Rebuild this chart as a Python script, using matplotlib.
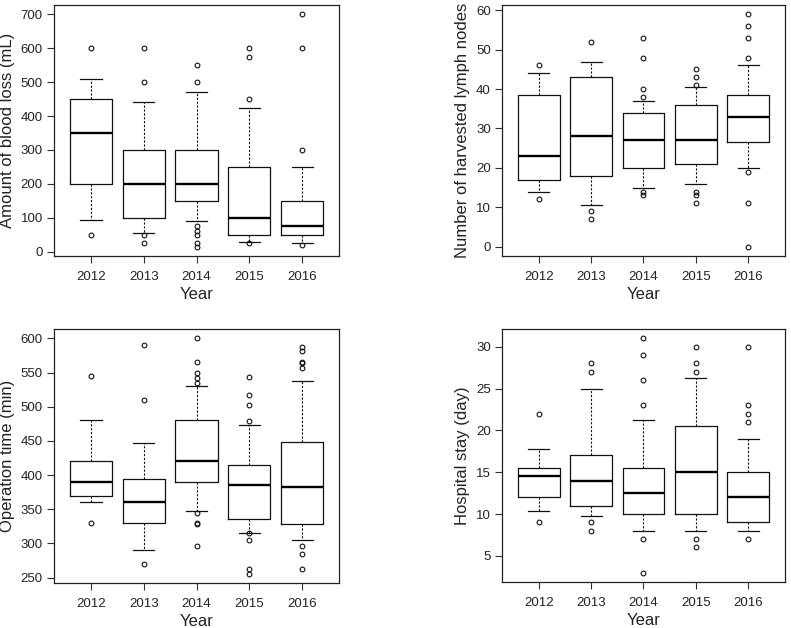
import matplotlib.pyplot as plt

plt.rcParams["font.family"] = ["Liberation Sans", "DejaVu Sans"]

years = ["2012", "2013", "2014", "2015", "2016"]

# blood loss (mL): whisker low, Q1, median, Q3, whisker high
blood_low = [95, 55, 90, 30, 25]
blood_q1 = [200, 100, 150, 50, 50]
blood_med = [350, 200, 200, 100, 75]
blood_q3 = [450, 300, 300, 250, 150]
blood_high = [510, 440, 470, 425, 250]
blood_out = [
    [600, 50],
    [600, 500, 50, 25],
    [550, 500, 75, 60, 50, 25, 15],
    [600, 575, 450, 25],
    [700, 600, 300, 20],
]

# harvested lymph nodes
nodes_low = [14, 10.5, 15, 16, 20]
nodes_q1 = [17, 18, 20, 21, 26.5]
nodes_med = [23, 28, 27, 27, 33]
nodes_q3 = [38.5, 43, 34, 36, 38.5]
nodes_high = [44, 47, 37, 40.5, 46]
nodes_out = [
    [46, 12],
    [52, 9, 7],
    [53, 48, 40, 38, 14, 13],
    [45, 43, 41, 14, 13, 11],
    [59, 56, 53, 48, 19, 11, 0],
]

# operation time (min)
optime_low = [360, 291, 348, 316, 305]
optime_q1 = [370, 330, 390, 336, 329]
optime_med = [390, 360, 420, 386, 382]
optime_q3 = [420, 395, 480, 415, 448]
optime_high = [480, 447, 531, 473, 537]
optime_out = [
    [545, 330],
    [590, 510, 270],
    [600, 566, 549, 542, 535, 345, 330, 329, 296],
    [544, 517, 502, 479, 315, 305, 262, 256],
    [587, 581, 566, 564, 556, 296, 285, 262],
]

# hospital stay (day)
stay_low = [10.4, 9.8, 8, 8, 8]
stay_q1 = [12, 11, 10, 10, 9]
stay_med = [14.5, 14, 12.5, 15, 12]
stay_q3 = [15.5, 17, 15.5, 20.5, 15]
stay_high = [17.8, 25, 21.2, 26.2, 19]
stay_out = [
    [22, 9],
    [28, 27, 9, 8],
    [31, 29, 26, 23, 7, 3],
    [30, 28, 27, 7, 6],
    [30, 23, 22, 21, 7],
]


def make_stats(low, q1, med, q3, high, outliers):
    return [
        {"whislo": lo, "q1": a, "med": m, "q3": b, "whishi": hi, "fliers": fl, "label": y}
        for lo, a, m, b, hi, fl, y in zip(low, q1, med, q3, high, outliers, years)
    ]


panels = [
    ([0.0683, 0.5924, 0.3603, 0.3997], make_stats(blood_low, blood_q1, blood_med, blood_q3, blood_high, blood_out),
     "Amount of blood loss (mL)", [0, 100, 200, 300, 400, 500, 600, 700]),
    ([0.6346, 0.5924, 0.3578, 0.3997], make_stats(nodes_low, nodes_q1, nodes_med, nodes_q3, nodes_high, nodes_out),
     "Number of harvested lymph nodes", [0, 10, 20, 30, 40, 50, 60]),
    ([0.0683, 0.0717, 0.3603, 0.4045], make_stats(optime_low, optime_q1, optime_med, optime_q3, optime_high, optime_out),
     "Operation time (min)", [250, 300, 350, 400, 450, 500, 550, 600]),
    ([0.6346, 0.0733, 0.3578, 0.4029], make_stats(stay_low, stay_q1, stay_med, stay_q3, stay_high, stay_out),
     "Hospital stay (day)", [5, 10, 15, 20, 25, 30]),
]

fig = plt.figure(figsize=(7.91, 6.28), dpi=100)

for rect, stats, ylabel, yticks in panels:
    ax = fig.add_axes(rect)
    ax.bxp(
        stats,
        positions=range(1, 6),
        widths=0.8,
        showfliers=True,
        boxprops=dict(color="#111111", linewidth=0.9),
        medianprops=dict(color="black", linewidth=1.7),
        whiskerprops=dict(color="#111111", linewidth=0.8, linestyle=(0, (2, 1.5))),
        capprops=dict(color="#111111", linewidth=0.9),
        capwidths=0.4,
        flierprops=dict(marker="o", markersize=3.4, markerfacecolor="none",
                        markeredgecolor="#111111", markeredgewidth=0.8),
    )
    # R style 4% range expansion
    all_vals = [v for s in stats for v in [s["whislo"], s["whishi"], *s["fliers"]]]
    lo, hi = min(all_vals), max(all_vals)
    pad = (hi - lo) * 0.04
    ax.set_ylim(lo - pad, hi + pad)
    ax.set_xlim(0.3, 5.7)
    ax.set_yticks(yticks)
    ax.set_xticks(range(1, 6))
    ax.set_xticklabels(years)
    ax.tick_params(axis="both", labelsize=9.5, length=5, width=0.8,
                   color="#333333", labelcolor="#222222")
    ax.tick_params(axis="x", pad=6)
    ax.tick_params(axis="y", pad=3)
    for sp in ax.spines.values():
        sp.set_linewidth(0.9)
        sp.set_color("#222222")
    ax.set_xlabel("Year", fontsize=12, labelpad=3, color="#222222")
    ax.set_ylabel(ylabel, fontsize=12, labelpad=4, color="#222222")

fig.savefig("out.png", dpi=100)
